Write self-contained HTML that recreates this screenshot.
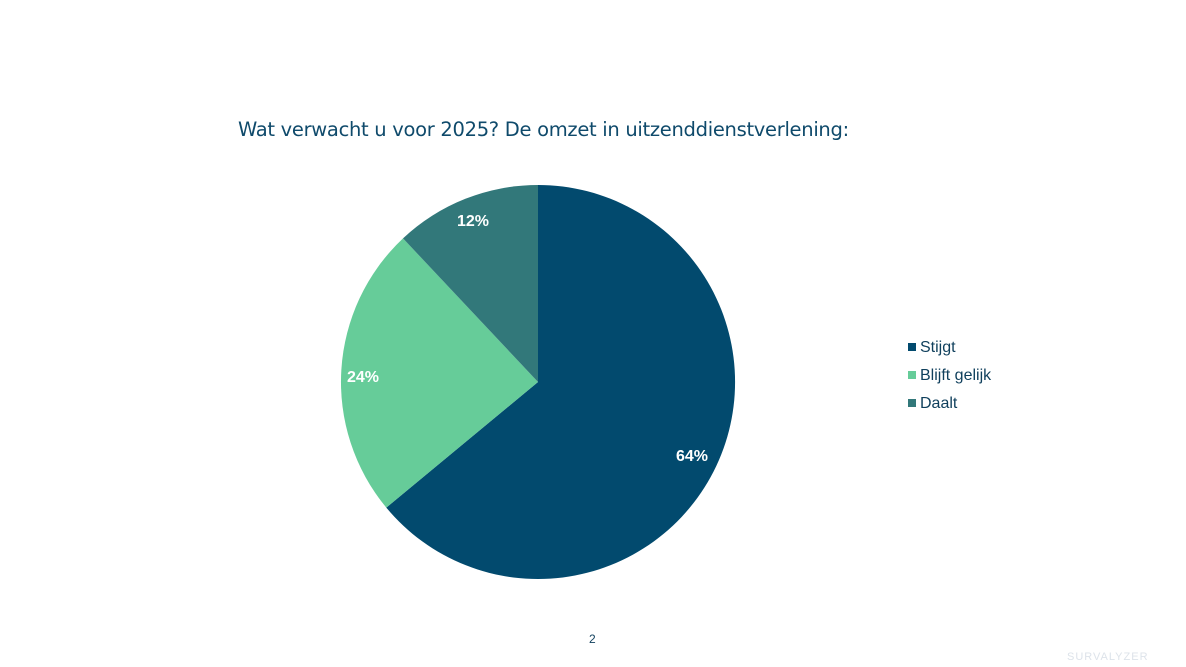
<!DOCTYPE html>
<html><head><meta charset="utf-8"><style>
html,body{margin:0;padding:0;background:#fff;}
body{width:1186px;height:667px;position:relative;overflow:hidden;font-family:"Liberation Sans",sans-serif;}
.t{position:absolute;left:238px;top:118px;font-size:19.5px;color:#0f4a6b;font-family:"DejaVu Sans","Liberation Sans",sans-serif;letter-spacing:-0.3px;white-space:nowrap;}
.leg{position:absolute;left:908px;font-size:16px;color:#0f3f5c;}
.leg span{display:inline-block;width:8px;height:8px;margin-right:4px;vertical-align:1px;}
</style></head><body>
<div class="t">Wat verwacht u voor 2025? De omzet in uitzenddienstverlening:</div>
<svg width="1186" height="667" style="position:absolute;left:0;top:0">
<path d="M538,382 L538,185 A197,197 0 1,1 386.3,507.6 Z" fill="#024a6e"/>
<path d="M538,382 L386.3,507.6 A197,197 0 0,1 403,238.4 Z" fill="#66cc99"/>
<path d="M538,382 L403,238.4 A197,197 0 0,1 538,185 Z" fill="#32787a"/>
<g fill="#fff" font-family="Liberation Sans" font-weight="bold" font-size="16">
<text x="676" y="461">64%</text>
<text x="347" y="382">24%</text>
<text x="457" y="226">12%</text>
</g>
<text x="589" y="643" font-size="12" fill="#0f3f5c" font-family="Liberation Sans">2</text>
<text x="1067" y="660" font-size="11" fill="#dde3ea" font-family="Liberation Sans" letter-spacing="1">SURVALYZER</text>
</svg>
<div class="leg" style="top:339px"><span style="background:#024a6e"></span>Stijgt</div>
<div class="leg" style="top:367px"><span style="background:#66cc99"></span>Blijft gelijk</div>
<div class="leg" style="top:395px"><span style="background:#32787a"></span>Daalt</div>
</body></html>
